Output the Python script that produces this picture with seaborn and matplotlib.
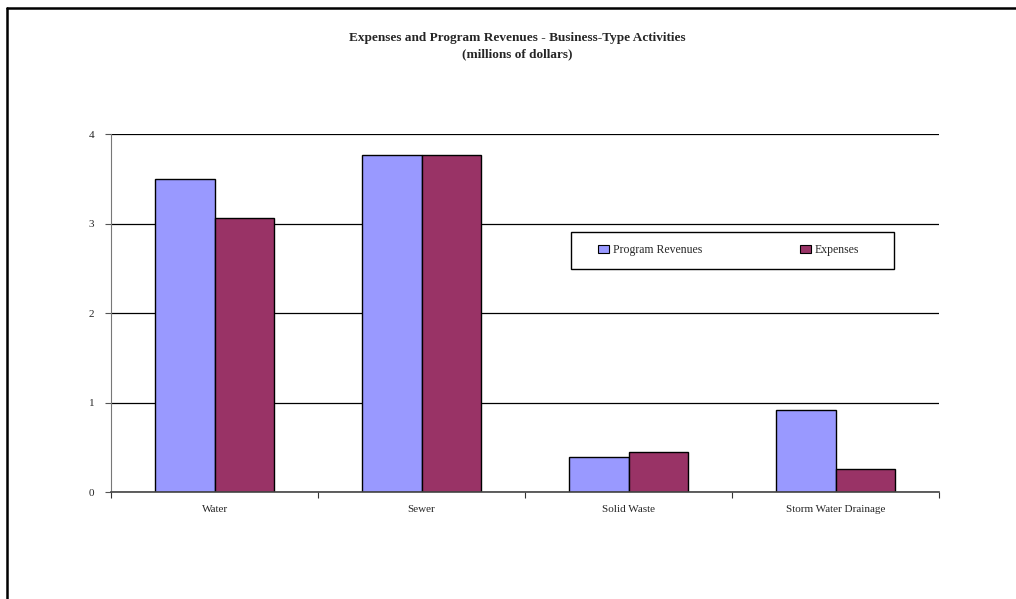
import pandas as pd
import seaborn as sns
import matplotlib.pyplot as plt
from matplotlib.lines import Line2D
from matplotlib.patches import Rectangle

categories = ["Water", "Sewer", "Solid Waste", "Storm Water Drainage"]
revenues = [3.50, 3.77, 0.40, 0.92]
expenses = [3.07, 3.77, 0.45, 0.26]
series = ["Program Revenues", "Expenses"]
colors = ["#9999FF", "#993366"]

data = pd.DataFrame({
    "category": categories * 2,
    "value": revenues + expenses,
    "series": [series[0]] * 4 + [series[1]] * 4,
})

sns.set_style("white")
plt.rcParams['font.family'] = ['Liberation Serif', 'DejaVu Serif']

fig = plt.figure(figsize=(10.16, 5.99), dpi=100)
ax = fig.add_axes([0.1093, 0.1778, 0.8150, 0.598])

sns.barplot(data=data, x="category", y="value", hue="series", palette=colors,
            width=0.572, edgecolor="black", linewidth=1, saturation=1, ax=ax)

ax.set_xlim(-0.5, 3.5)
ax.set_ylim(0, 4)
ax.set_yticks([0, 1, 2, 3, 4])
ax.yaxis.grid(True, color="black", linewidth=0.9)
ax.set_axisbelow(True)
ax.tick_params(axis="y", left=True, length=4, width=0.8, color="#555555",
               labelsize=8, pad=8)

ax.set_xticks([-0.5, 0.5, 1.5, 2.5, 3.5])
ax.set_xticklabels([])
ax.set_xticks(range(4), minor=True)
ax.set_xticklabels(categories, minor=True)
ax.tick_params(axis="x", which="major", bottom=True, length=4, width=0.8, color="#333333")
ax.tick_params(axis="x", which="minor", bottom=False, length=0, labelsize=8, pad=9)

ax.set_xlabel("")
ax.set_ylabel("")
for s in ["top", "right"]:
    ax.spines[s].set_visible(False)
ax.spines["left"].set_color("#777777")
ax.spines["left"].set_linewidth(0.8)
ax.spines["bottom"].set_color("#444444")
ax.spines["bottom"].set_linewidth(1.2)

# legend: entries without frame, box drawn separately
ax.legend_.remove()
handles = [plt.Rectangle((0, 0), 1, 1, facecolor=c, edgecolor="black", linewidth=0.8) for c in colors]
fig.legend(handles, series, loc="center left", ncol=2,
           bbox_to_anchor=(598 / 1016, 1 - 250 / 599),
           fontsize=8.5, handlelength=0.9, handleheight=0.65, handletextpad=0.35,
           columnspacing=8.3, frameon=False, borderpad=0, borderaxespad=0)
fig.add_artist(Rectangle((571 / 1016, 1 - 269 / 599), 323 / 1016, 37 / 599,
                         transform=fig.transFigure, facecolor="none",
                         edgecolor="black", linewidth=1))

fig.text(0.5095, 0.936, "Expenses and Program Revenues - Business-Type Activities",
         ha="center", va="center", fontsize=9.5, fontweight="bold")
fig.text(0.5095, 0.909, "(millions of dollars)",
         ha="center", va="center", fontsize=9.5, fontweight="bold")

# page border lines
fig.add_artist(Line2D([0.0069, 1], [0.986, 0.986], color="black", linewidth=1.8, transform=fig.transFigure))
fig.add_artist(Line2D([0.0069, 0.0069], [0, 0.986], color="black", linewidth=1.8, transform=fig.transFigure))

fig.savefig("out.png", dpi=100)
